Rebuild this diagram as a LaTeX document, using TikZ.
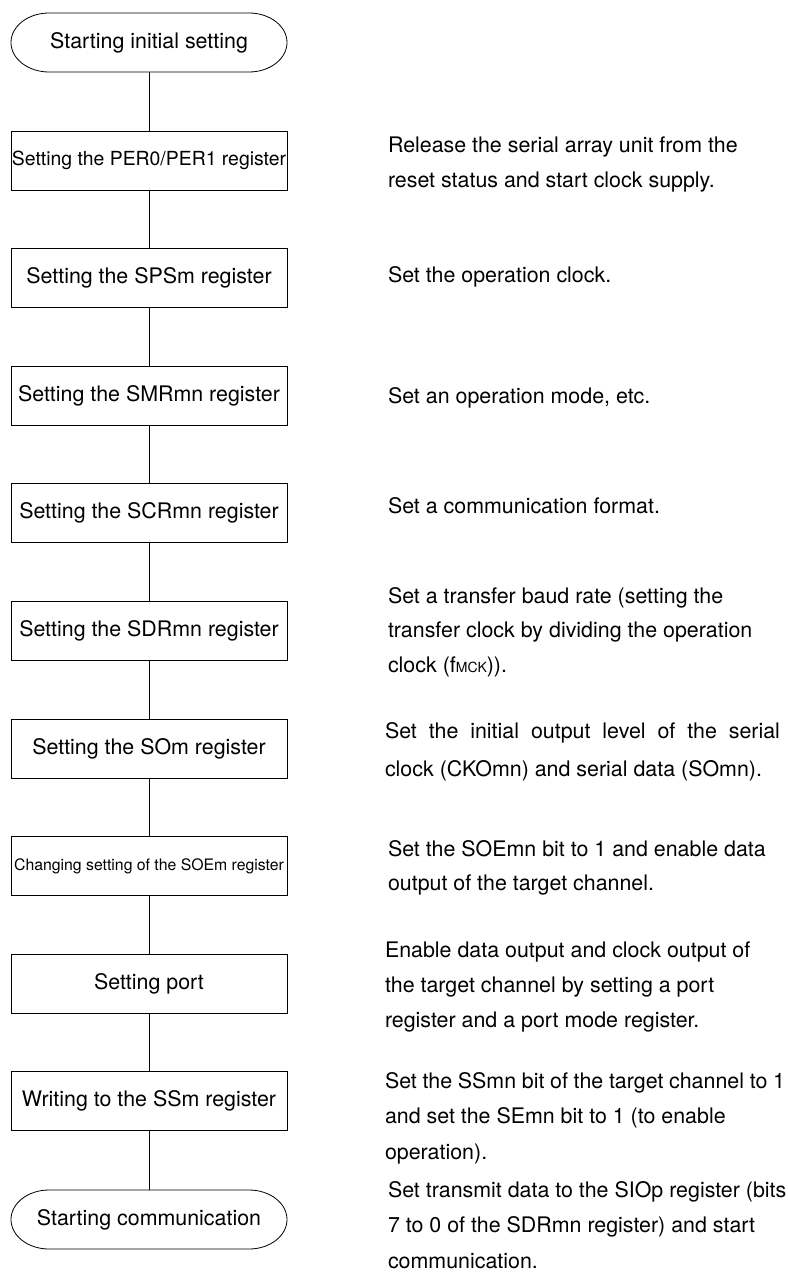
\documentclass[tikz,border=0pt]{standalone}
\usepackage{fontspec}
\setmainfont{TeX Gyre Heros}
\begin{document}
\begin{tikzpicture}[x=1pt,y=1pt,
  every node/.style={inner sep=0pt, outer sep=0pt},
  stepbox/.style={draw, line width=0.8pt, minimum width=276pt, minimum height=59pt, font=\fontsize{21.4}{25}\selectfont},
  termbox/.style={minimum width=276pt, minimum height=59pt, font=\fontsize{21.4}{25}\selectfont},
  note/.style={anchor=base west, font=\fontsize{21.4}{35}\selectfont},
  conn/.style={line width=0.8pt}]
\useasboundingbox (0,0) rectangle (787,-1276);
\fill[white] (0,0) rectangle (787,-1276);

% terminators
\node[termbox] (start) at (149,-42.5) {Starting initial setting};
\draw[conn] ([xshift=38pt]start.north west) -- ([xshift=-38pt]start.north east)
  arc[start angle=90,end angle=-90,x radius=38pt,y radius=29.5pt]
  -- ([xshift=38pt]start.south west)
  arc[start angle=270,end angle=90,x radius=38pt,y radius=29.5pt] -- cycle;

\node[termbox] (finish) at (149,-1219.5) {Starting communication};
\draw[conn] ([xshift=38pt]finish.north west) -- ([xshift=-38pt]finish.north east)
  arc[start angle=90,end angle=-90,x radius=38pt,y radius=29.5pt]
  -- ([xshift=38pt]finish.south west)
  arc[start angle=270,end angle=90,x radius=38pt,y radius=29.5pt] -- cycle;

% steps
\node[stepbox, font=\fontsize{19.4}{23}\selectfont] (b1) at (149,-160.5) {Setting the PER0/PER1 register};
\node[stepbox] (b2) at (149,-278.1) {Setting the SPSm register};
\node[stepbox] (b3) at (149,-395.7) {Setting the SMRmn register};
\node[stepbox] (b4) at (149,-513.3) {Setting the SCRmn register};
\node[stepbox] (b5) at (149,-630.9) {Setting the SDRmn register};
\node[stepbox] (b6) at (149,-748.5) {Setting the SOm register};
\node[stepbox, font=\fontsize{15.8}{19}\selectfont] (b7) at (149,-866.1) {Changing setting of the SOEm register};
\node[stepbox] (b8) at (149,-983.7) {Setting port};
\node[stepbox] (b9) at (149,-1101.3) {Writing to the SSm register};

% connectors
\draw[conn] (start.south) -- (b1.north);
\draw[conn] (b1.south) -- (b2.north);
\draw[conn] (b2.south) -- (b3.north);
\draw[conn] (b3.south) -- (b4.north);
\draw[conn] (b4.south) -- (b5.north);
\draw[conn] (b5.south) -- (b6.north);
\draw[conn] (b6.south) -- (b7.north);
\draw[conn] (b7.south) -- (b8.north);
\draw[conn] (b8.south) -- (b9.north);
\draw[conn] (b9.south) -- (finish.north);

% notes
\node[note] (n1) at (388,-153) {\parbox[t]{400pt}{Release the serial array unit from the\\reset status and start clock supply.}};
\node[note] (n2) at (388,-282) {Set the operation clock.};
\node[note] (n3) at (388,-403) {Set an operation mode, etc.};
\node[note] (n4) at (388,-513) {Set a communication format.};
\node[note, font=\fontsize{21.4}{34.5}\selectfont] (n5) at (388,-603) {\parbox[t]{400pt}{Set a transfer baud rate (setting the\\transfer clock by dividing the operation\\clock (f{\fontsize{14}{14}\selectfont MCK})).}};
\node[note, font=\fontsize{21.4}{38}\selectfont] (n6) at (385,-738) {\parbox[t]{400pt}{\makebox[395pt][s]{Set the initial output level of the serial}\\clock (CKOmn) and serial data (SOmn).}};
\node[note, font=\fontsize{21.4}{34}\selectfont] (n7) at (388,-856) {\parbox[t]{400pt}{Set the SOEmn bit to 1 and enable data\\output of the target channel.}};
\node[note] (n8) at (385,-957) {\parbox[t]{400pt}{Enable data output and clock output of\\the target channel by setting a port\\register and a port mode register.}};
\node[note, font=\fontsize{21.4}{35.5}\selectfont] (n9) at (385,-1088) {\parbox[t]{400pt}{Set the SSmn bit of the target channel to 1\\and set the SEmn bit to 1 (to enable\\operation).}};
\node[note, font=\fontsize{21.4}{35.5}\selectfont] (n10) at (388,-1197) {\parbox[t]{400pt}{Set transmit data to the SIOp register (bits\\7 to 0 of the SDRmn register) and start\\communication.}};
\end{tikzpicture}
\end{document}
